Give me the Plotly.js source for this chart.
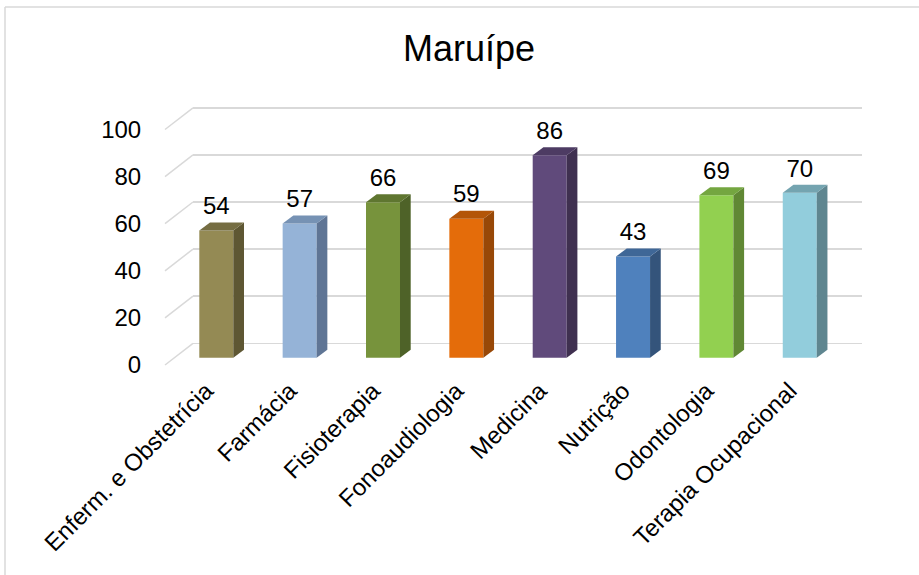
<!DOCTYPE html>
<html>
<head>
<meta charset="utf-8">
<script src="https://cdn.plot.ly/plotly-3.0.1.min.js"></script>
<style>html,body{margin:0;padding:0;background:#fff;}#chart{width:919px;height:575px;}</style>
</head>
<body>
<div id="chart"></div>
<script>
// ---- data ----
const categories = ["Enferm. e Obstetrícia", "Farmácia", "Fisioterapia", "Fonoaudiologia", "Medicina", "Nutrição", "Odontologia", "Terapia Ocupacional"];
const values = [54, 57, 66, 59, 86, 43, 69, 70];
const frontColors = ["#948A54", "#95B3D7", "#77933C", "#E46C0A", "#604A7B", "#4F81BD", "#92D050", "#92CDDC"];
const sideColors  = ["#5E5733", "#5F7595", "#4E6228", "#984807", "#3F3050", "#34547B", "#608834", "#5F8690"];
const topColors   = ["#756D42", "#7692B4", "#5F7630", "#B35508", "#4D3B63", "#3F6797", "#74A640", "#74A4B0"];
const yTicks = [0, 20, 40, 60, 80, 100];
const chartTitle = "Maruípe";

// ---- geometry (pixels) ----
const W = 919, H = 575;
const L = 165, R = 862, T = 95, B = 371;
const s = 2.355;                 // px per value unit
const catPx0 = 216.3, catStep = 83.35;
const barZeroPx = 357.7, gridZeroPx = 343.3, labelZeroPx = 365;
const wallPx = 193;
const barW = 34 / catStep, ddx = 10.7 / catStep, ddy = 8 / s;
const pw = R - L, ph = B - T;
function yr(z) { return [-(B - z) / s, (z - T) / s]; }
const font = "Liberation Sans, Arial, sans-serif";

const idx = categories.map((c, i) => i);
const traces = [];
// dummy trace for the back-wall grid subplot
traces.push({x: [], y: [], type: 'scatter', xaxis: 'x', yaxis: 'y', showlegend: false, hoverinfo: 'skip'});
// front faces
traces.push({
  type: 'bar', x: idx, y: values, width: barW, xaxis: 'x2', yaxis: 'y2',
  marker: {color: frontColors, line: {width: 0}}, showlegend: false, hoverinfo: 'skip'
});
// side and top faces
values.forEach((v, i) => {
  const xr = i + barW / 2, xl = i - barW / 2;
  traces.push({
    type: 'scatter', mode: 'lines', xaxis: 'x2', yaxis: 'y2', fill: 'toself',
    x: [xr, xr + ddx, xr + ddx, xr, xr], y: [0, ddy, v + ddy, v, 0],
    fillcolor: sideColors[i], line: {width: 0, color: sideColors[i]}, showlegend: false, hoverinfo: 'skip'
  });
  traces.push({
    type: 'scatter', mode: 'lines', xaxis: 'x2', yaxis: 'y2', fill: 'toself',
    x: [xl, xl + ddx, xr + ddx, xr, xl], y: [v, v + ddy, v + ddy, v, v],
    fillcolor: topColors[i], line: {width: 0, color: topColors[i]}, showlegend: false, hoverinfo: 'skip'
  });
});
// data labels
traces.push({
  type: 'scatter', mode: 'text', xaxis: 'x2', yaxis: 'y2',
  x: idx, y: values.map(v => v + ddy + 1), text: values.map(String),
  textposition: 'top center', textfont: {family: font, size: 24, color: '#000'},
  showlegend: false, hoverinfo: 'skip', cliponaxis: false
});

const shapes = [];
const wallFrac = (wallPx - L) / pw;
const diagDy = (labelZeroPx - gridZeroPx) / s;
yTicks.forEach(v => {
  shapes.push({type: 'line', xref: 'paper', yref: 'y3', x0: 0, x1: wallFrac, y0: v, y1: v + diagDy,
    line: {color: '#D9D9D9', width: 1.5}, layer: 'below'});
});
// chart border (top and left)
const px2x = px => (px - L) / pw, px2y = py => (B - py) / ph;
shapes.push({type: 'line', xref: 'paper', yref: 'paper', x0: px2x(5), x1: px2x(W + 5), y0: px2y(7), y1: px2y(7),
  line: {color: '#D9D9D9', width: 1.5}});
shapes.push({type: 'line', xref: 'paper', yref: 'paper', x0: px2x(5), x1: px2x(5), y0: px2y(7), y1: px2y(H + 5),
  line: {color: '#D9D9D9', width: 1.5}});

const layout = {
  width: W, height: H, autosize: false,
  margin: {l: L, r: W - R, t: T, b: H - B, pad: 0},
  paper_bgcolor: '#fff', plot_bgcolor: 'rgba(0,0,0,0)',
  font: {family: font, size: 24, color: '#000'},
  title: {text: chartTitle, font: {family: font, size: 36, color: '#000'},
    xref: 'container', yref: 'container', x: 469 / W, xanchor: 'center', y: 1 - 48.5 / H, yanchor: 'middle'},
  showlegend: false,
  xaxis: {domain: [wallFrac, 1], anchor: 'y', range: [0, 1], showgrid: false, zeroline: false,
    showticklabels: false, showline: false, ticks: '', fixedrange: true},
  yaxis: {domain: [0, 1], anchor: 'x', range: yr(gridZeroPx), tickvals: yTicks, showgrid: true,
    gridcolor: '#D9D9D9', gridwidth: 1.5, zeroline: true, zerolinecolor: '#D9D9D9', zerolinewidth: 1.5,
    showticklabels: false, showline: false, ticks: '', fixedrange: true},
  xaxis2: {domain: [0, 1], anchor: 'y2', range: [(L - catPx0) / catStep, (R - catPx0) / catStep],
    tickvals: idx, ticktext: categories, tickangle: -45, ticklabelshift: -10, showgrid: false, zeroline: false, showline: false,
    ticks: '', tickfont: {family: font, size: 24, color: '#000'}, fixedrange: true},
  yaxis2: {domain: [0, 1], anchor: 'x2', range: yr(barZeroPx), visible: false, fixedrange: true},
  yaxis3: {overlaying: 'y2', anchor: 'x2', side: 'left', range: yr(labelZeroPx), tickvals: yTicks,
    showgrid: false, zeroline: false, showline: false, ticks: 'outside', ticklen: 18,
    tickcolor: 'rgba(0,0,0,0)', tickfont: {family: font, size: 24, color: '#000'}, fixedrange: true},
  shapes: shapes
};
// attach an empty trace to y3 so the axis is drawn
traces.push({x: [], y: [], type: 'scatter', xaxis: 'x2', yaxis: 'y3', showlegend: false, hoverinfo: 'skip'});

Plotly.newPlot('chart', traces, layout, {staticPlot: true, displayModeBar: false});
</script>
</body>
</html>
